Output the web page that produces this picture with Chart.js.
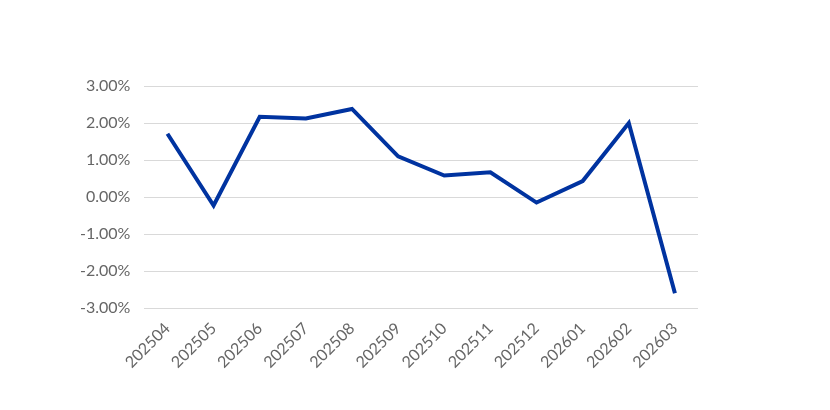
<!DOCTYPE html>
<html><head><script src="https://cdn.jsdelivr.net/npm/chart.js@4"></script>
<style>body{margin:0;background:#fff}#w{width:830px;height:410px}</style></head>
<body><div id="w"><canvas id="c"></canvas></div>
<script>
const categories=['202504','202505','202506','202507','202508','202509','202510','202511','202512','202601','202602','202603'];
const values=[1.71,-0.23,2.17,2.12,2.38,1.10,0.58,0.67,-0.15,0.43,2.00,-2.60];
new Chart(document.getElementById('c'),{type:'line',
data:{labels:categories,datasets:[{data:values,borderColor:'#0033a0',borderWidth:4,pointRadius:0,tension:0,fill:false}]},
options:{responsive:true,maintainAspectRatio:false,animation:false,
layout:{padding:{top:86,left:66,right:132,bottom:35}},
plugins:{legend:{display:false},tooltip:{enabled:false}},
scales:{
x:{offset:true,grid:{display:false},border:{display:false},ticks:{color:'#666',font:{family:'Lato',size:16},maxRotation:45,minRotation:45}},
y:{min:-3,max:3,ticks:{stepSize:1,color:'#666',font:{family:'Lato',size:16},padding:14,callback:v=>v.toFixed(2)+'%'},grid:{color:'#d9d9d9',drawTicks:false},border:{display:false}}
}}});
</script></body></html>
